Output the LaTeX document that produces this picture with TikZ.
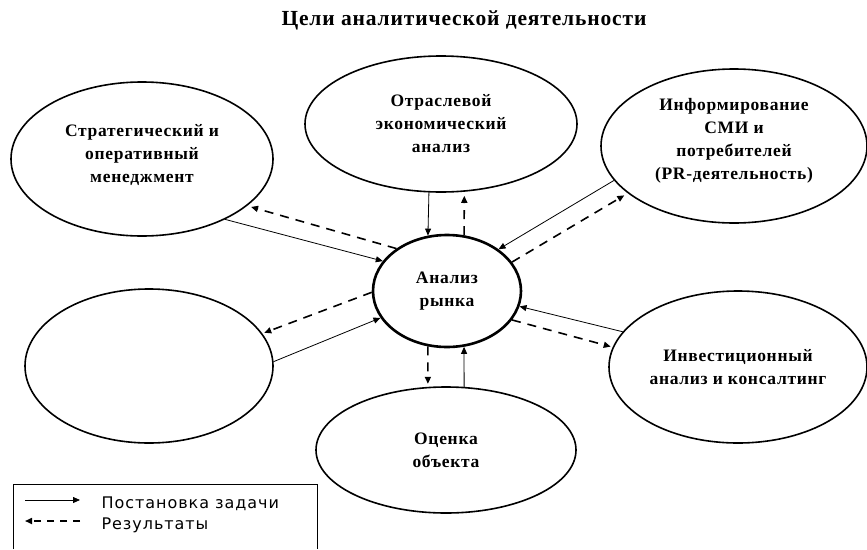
\documentclass[tikz,border=0pt]{standalone}
\usepackage{fontspec}
\setmainfont{Liberation Serif}[LetterSpace=4]
\newfontfamily\legfont{DejaVu Sans}[LetterSpace=6]
\usetikzlibrary{shapes.geometric,arrows.meta}
\begin{document}
\begin{tikzpicture}[x=1pt,y=-1pt,>={Triangle[length=7pt,width=6pt]},
	goal/.style={draw,ellipse,line width=1.6pt,align=center,inner sep=0pt,font=\fontsize{17.5}{23}\selectfont\bfseries},
	task/.style={->,line width=.8pt},
	res/.style={->,line width=1.6pt,dash pattern=on 9pt off 7pt}]
	\useasboundingbox (0,0) rectangle (867,549);
	\node[font=\fontsize{21.5}{24}\selectfont\bfseries] (title) at (464,20) {Цели аналитической деятельности};
	% центр
	\node[goal,line width=2.6pt,minimum width=148pt,minimum height=112pt] (mkt) at (447,291) {Анализ\\рынка};
	\node[goal,minimum width=262pt,minimum height=154pt] (strat) at (142,159) {Стратегический и\\оперативный\\менеджмент\\[-11pt]};
	\node[goal,minimum width=272pt,minimum height=136pt] (sect) at (441,124) {Отраслевой\\экономический\\анализ};
	\node[goal,minimum width=266pt,minimum height=154pt] (info) at (734,146) {Информирование\\СМИ и\\потребителей\\(PR-деятельность)\\[-9pt]};
	\node[goal,minimum width=248pt,minimum height=154pt] (lb) at (149,366) {};
	\node[goal,minimum width=260pt,minimum height=126pt] (obj) at (446,450) {Оценка\\объекта};
	\node[goal,minimum width=258pt,minimum height=152pt] (inv) at (738,367) {Инвестиционный\\анализ и консалтинг};
	% связи
	\draw[task] (strat.-36.7) -- (mkt.155.6);
	\draw[res,shorten >=4pt] (mkt.140.4) -- (strat.-24);
	\draw[task] (sect.-100.9) -- (mkt.109.3);
	\draw[res,shorten >=4pt] (mkt.73.7) -- (sect.-71.8);
	\draw[task] (info.-164.5) -- (mkt.39.6);
	\draw[res,shorten >=4pt] (mkt.24.8) -- (info.-156.1);
	\draw[res,shorten >=2pt] (mkt.181.5) -- (lb.16.1);
	\draw[task] (lb.2.8) -- (mkt.202.6);
	\draw[res,shorten >=3pt] (mkt.-109.3) -- (obj.106.1);
	\draw[task] (obj.74.8) -- (mkt.-73.7);
	\draw[task] (inv.163.3) -- (mkt.-12.2);
	\draw[res,shorten >=2pt] (mkt.-24) -- (inv.171.2);
	% легенда
	\draw[line width=.8pt] (13,549) |- (317,484) -- (317,549);
	\coordinate (t1) at (25,500);
	\coordinate (t2) at (80,500);
	\coordinate (r1) at (80,521);
	\coordinate (r2) at (25,521);
	\draw[task] (t1) -- (t2);
	\draw[res,dash pattern=on 7pt off 6pt] (r1) -- (r2);
	\node[font=\legfont\fontsize{16}{18}\selectfont,anchor=west] (ltask) at (98,504) {Постановка задачи};
	\node[font=\legfont\fontsize{16}{18}\selectfont,anchor=west] (lres) at (98,525) {Результаты};
\end{tikzpicture}
\end{document}
